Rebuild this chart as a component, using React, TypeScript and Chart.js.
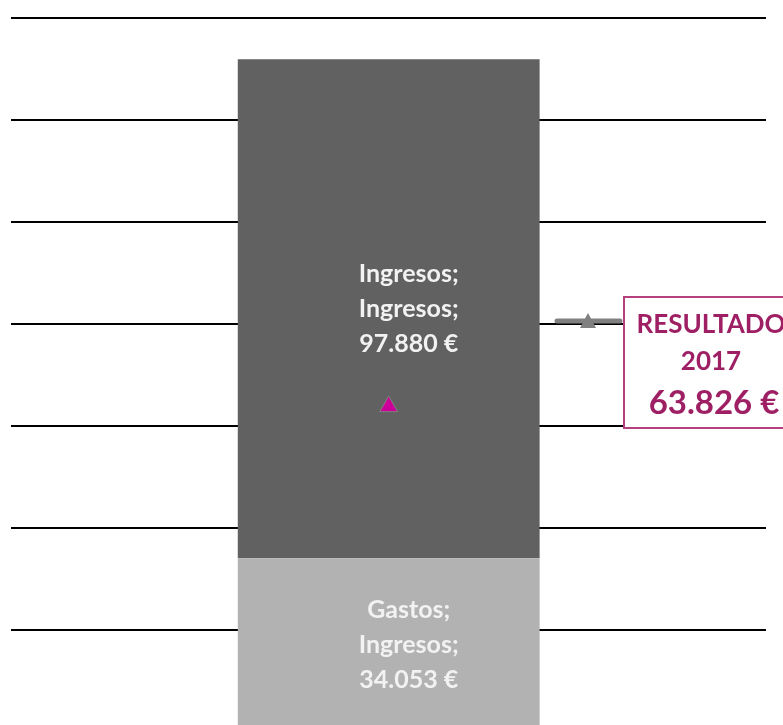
import React, { useEffect, useRef } from "react";
import { Chart, registerables } from "chart.js";

Chart.register(...registerables);

const categories = ["Ingresos"];
const gastosValues = [34053];
const ingresosValues = [97880];
const resultadoValues = [63826];
const seriesNames = ["Gastos", "Ingresos", "Resultado"];
const valueLabels = ["34.053 €", "97.880 €"];
const boxLines = ["RESULTADO", "2017", "63.826 €"];

const FONT = "Lato, 'Open Sans', sans-serif";
const MAGENTA = "#9E1F63";

const labelPlugin = {
  id: "labelsAndBox",
  afterDatasetsDraw(chart: any) {
    const ctx = chart.ctx;
    ctx.save();
    ctx.fillStyle = "#F2F2F2";
    ctx.font = `bold 25px ${FONT}`;
    ctx.textAlign = "center";
    ctx.textBaseline = "middle";
    [0, 1].forEach((di) => {
      const meta = chart.getDatasetMeta(di);
      const el = meta.data[0];
      if (!el) return;
      const props = el.getProps(["x", "y", "base"], true);
      const cy = (props.y + props.base) / 2;
      const cx = props.x + 20;
      const lines = [seriesNames[di] + ";", categories[0] + ";", valueLabels[di]];
      lines.forEach((t, i) => ctx.fillText(t, cx, cy + (i - 1) * 35));
    });
    ctx.restore();
  },
  afterDraw(chart: any) {
    const ctx = chart.ctx;
    ctx.save();
    // legend-like marker
    ctx.strokeStyle = "#808080";
    ctx.lineWidth = 5;
    ctx.lineCap = "round";
    ctx.beginPath();
    ctx.moveTo(557, 321);
    ctx.lineTo(620, 321);
    ctx.stroke();
    ctx.fillStyle = "#808080";
    ctx.beginPath();
    ctx.moveTo(588, 313);
    ctx.lineTo(596, 328);
    ctx.lineTo(580, 328);
    ctx.closePath();
    ctx.fill();
    // box
    ctx.fillStyle = "#FFFFFF";
    ctx.fillRect(624, 297, 180, 131);
    ctx.strokeStyle = "#B5407E";
    ctx.lineWidth = 2;
    ctx.strokeRect(624, 297, 180, 131);
    ctx.fillStyle = MAGENTA;
    ctx.textAlign = "center";
    ctx.textBaseline = "middle";
    ctx.font = `bold 26px ${FONT}`;
    ctx.fillText(boxLines[0], 711, 325);
    ctx.fillText(boxLines[1], 711, 362);
    ctx.font = `bold 33px ${FONT}`;
    ctx.fillText(boxLines[2], 714, 403);
    ctx.restore();
  },
};

export default function App() {
  const ref = useRef<HTMLCanvasElement | null>(null);
  useEffect(() => {
    if (!ref.current) return;
    const chart = new Chart(ref.current, {
      type: "bar",
      data: {
        labels: categories,
        datasets: [
          {
            type: "bar",
            label: seriesNames[0],
            data: gastosValues,
            backgroundColor: "#B2B2B2",
            barPercentage: 0.4,
            categoryPercentage: 1,
            order: 2,
          },
          {
            type: "bar",
            label: seriesNames[1],
            data: ingresosValues,
            backgroundColor: "#616161",
            barPercentage: 0.4,
            categoryPercentage: 1,
            order: 2,
          },
          {
            type: "line",
            label: seriesNames[2],
            data: resultadoValues,
            showLine: false,
            pointStyle: "triangle",
            pointRadius: 10.4,
            pointBackgroundColor: "#CC0099",
            pointBorderColor: "#7F7F7F",
            pointBorderWidth: 1,
            order: 1,
          } as any,
        ],
      },
      options: {
        animation: false,
        responsive: false,
        maintainAspectRatio: false,
        layout: { padding: { top: 18, bottom: 28, left: 10, right: 17 } },
        plugins: { legend: { display: false }, tooltip: { enabled: false } },
        scales: {
          x: { stacked: true, display: false },
          y: {
            stacked: true,
            min: 0,
            max: 140000,
            ticks: { display: false, stepSize: 20000 },
            border: { display: false },
            grid: { color: "#000000", lineWidth: 2, drawTicks: false },
          },
        },
      },
      plugins: [labelPlugin],
    });
    return () => chart.destroy();
  }, []);
  return (
    <div style={{ position: "fixed", left: 0, top: 0, width: 783, height: 725, overflow: "hidden", background: "#fff" }}>
      <canvas ref={ref} width={783} height={760} style={{ position: "absolute", left: 0, top: 0 }} />
    </div>
  );
}
